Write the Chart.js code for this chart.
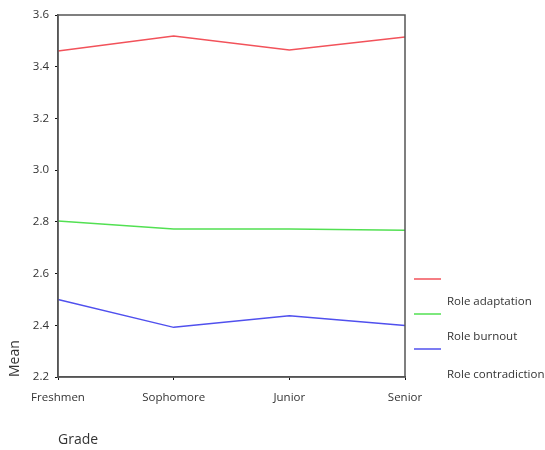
<!DOCTYPE html>
<html>
<head>
<meta charset="utf-8">
<script src="https://cdn.jsdelivr.net/npm/chart.js@4"></script>
<style>
  html, body { margin: 0; padding: 0; background: #fff; }
  #wrap { width: 545px; height: 450px; }
</style>
</head>
<body>
<div id="wrap"><canvas id="chart"></canvas></div>
<script>
// ── Data ──────────────────────────────────────────────────────────────────────
const grades = ["Freshmen", "Sophomore", "Junior", "Senior"];
const seriesNames = ["Role adaptation", "Role burnout", "Role contradiction"];
const roleAdaptation = [3.461, 3.519, 3.465, 3.515];
const roleBurnout = [2.803, 2.772, 2.772, 2.768];
const roleContradiction = [2.500, 2.392, 2.437, 2.399];
const yTicks = [2.2, 2.4, 2.6, 2.8, 3.0, 3.2, 3.4, 3.6];

const colors = ["#f2525a", "#52e052", "#5050ee"];
const FONT = "'Open Sans', 'DejaVu Sans', sans-serif";

// ── Plugins ───────────────────────────────────────────────────────────────────
// box round the plot area (top and right edges too)
const frame = {
  id: "frame",
  afterDraw(chart) {
    const { ctx, chartArea: a } = chart;
    ctx.save();
    ctx.strokeStyle = "#555";
    ctx.lineWidth = 1.5;
    ctx.strokeRect(a.left, a.top, a.right - a.left, a.bottom - a.top);
    ctx.restore();
  }
};

// legend like the original: each label sits below its own line
const sideLegend = {
  id: "sideLegend",
  afterDraw(chart) {
    const { ctx, chartArea: a } = chart;
    const x0 = a.right + 9;
    ctx.save();
    ctx.font = "11.5px " + FONT;
    ctx.textBaseline = "middle";
    chart.data.datasets.forEach((ds, i) => {
      const y = 279 + i * 35;
      ctx.strokeStyle = ds.borderColor;
      ctx.lineWidth = 1.5;
      ctx.beginPath();
      ctx.moveTo(x0, y);
      ctx.lineTo(x0 + 27, y);
      ctx.stroke();
      ctx.fillStyle = "#333";
      ctx.fillText(ds.label, x0 + 33, y + 23 + (i === 2 ? 3 : 0));
    });
    ctx.restore();
  }
};

// ── Chart ─────────────────────────────────────────────────────────────────────
const values = [roleAdaptation, roleBurnout, roleContradiction];

new Chart(document.getElementById("chart"), {
  type: "line",
  data: {
    labels: grades,
    datasets: values.map((v, i) => ({
      label: seriesNames[i],
      data: v,
      borderColor: colors[i],
      borderWidth: 1.5,
      pointRadius: 0,
      tension: 0,
      fill: false
    }))
  },
  options: {
    responsive: true,
    maintainAspectRatio: false,
    animation: false,
    layout: { padding: { top: 15, right: 140, left: 0, bottom: 0 } },
    plugins: { legend: { display: false }, tooltip: { enabled: false } },
    scales: {
      x: {
        offset: false,
        grid: { drawOnChartArea: false, tickLength: 3, color: "#111" },
        border: { color: "#555", width: 1.5 },
        ticks: { color: "#333", font: { family: FONT, size: 11.5 }, padding: 11, maxRotation: 0 },
        title: {
          display: true, text: "Grade", align: "start", color: "#333",
          font: { family: FONT, size: 14 }, padding: { top: 0, bottom: 2 }
        },
        afterFit(scale) { scale.height = 73; }
      },
      y: {
        min: 2.2,
        max: 3.6,
        afterBuildTicks(scale) { scale.ticks = yTicks.map(v => ({ value: v })); },
        grid: { drawOnChartArea: false, tickLength: 3, color: "#111" },
        border: { color: "#555", width: 1.5 },
        ticks: {
          color: "#333", font: { family: FONT, size: 11.5 }, padding: 6,
          callback: v => Number(v).toFixed(1)
        },
        title: {
          display: true, text: "Mean", align: "start", color: "#333",
          font: { family: FONT, size: 14 }, padding: { top: 7, bottom: 0 }
        },
        afterFit(scale) { scale.width = 58; }
      }
    }
  },
  plugins: [frame, sideLegend]
});
</script>
</body>
</html>
